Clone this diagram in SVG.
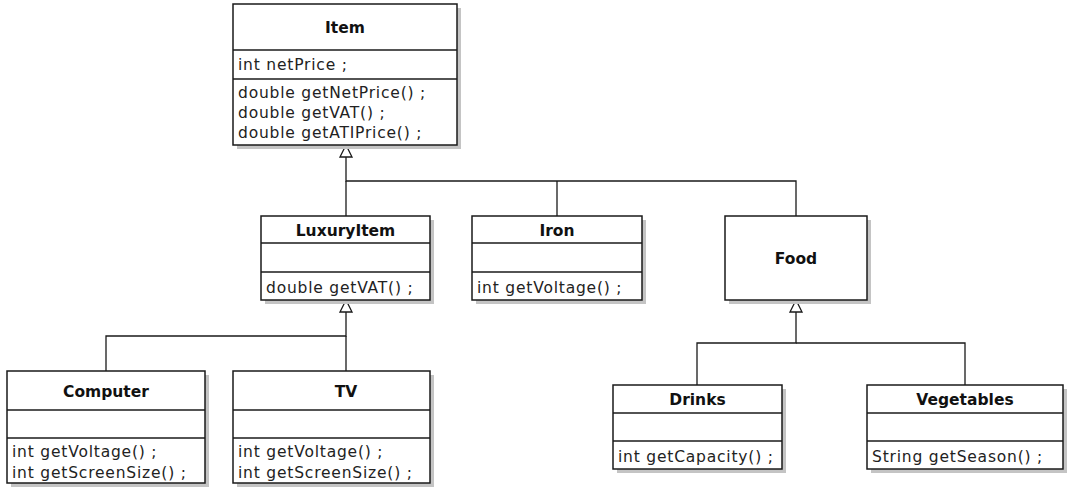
<svg xmlns="http://www.w3.org/2000/svg" width="1080" height="499" viewBox="0 0 1080 499">
<defs>
<style>
.sh{fill:#c4c4c4;}
.bx{fill:#fff;stroke:#1a1a1a;stroke-width:1.5;}
.sep{stroke:#1a1a1a;stroke-width:1.3;}
.t{font-family:"DejaVu Sans","Liberation Sans",sans-serif;font-size:15.5px;letter-spacing:0.8px;fill:#222;}
.h{font-family:"DejaVu Sans","Liberation Sans",sans-serif;font-size:15.5px;font-weight:bold;fill:#111;text-anchor:middle;}
.c{fill:none;stroke:#1a1a1a;stroke-width:1.3;}
.ar{fill:#fff;stroke:#1a1a1a;stroke-width:1.3;}
</style>
</defs>
<rect width="1080" height="499" fill="#fff"/>
<g id="connectors">
<polyline class="c" points="346,157 346,181 796,181 796,216"/>
<line class="c" x1="346" y1="181" x2="346" y2="216"/>
<line class="c" x1="557" y1="181" x2="557" y2="216"/>
<polygon class="ar" points="346,145 340,157 352,157"/>
<polyline class="c" points="346,312 346,336 106,336 106,371"/>
<line class="c" x1="346" y1="336" x2="346" y2="371"/>
<polygon class="ar" points="346,300 340,312 352,312"/>
<polyline class="c" points="796,312 796,343 697,343 697,385"/>
<polyline class="c" points="796,343 965,343 965,385"/>
<polygon class="ar" points="796,300 790,312 802,312"/>
</g>
<g id="Item">
<rect class="sh" x="237" y="8" width="224" height="141"/>
<rect class="bx" x="233" y="4" width="224" height="141"/>
<line class="sep" x1="233" y1="50" x2="457" y2="50"/>
<line class="sep" x1="233" y1="79" x2="457" y2="79"/>
<text class="h" x="345" y="33">Item</text>
<text class="t" x="238" y="70">int netPrice ;</text>
<text class="t" x="238" y="98">double getNetPrice() ;</text>
<text class="t" x="238" y="118">double getVAT() ;</text>
<text class="t" x="238" y="138">double getATIPrice() ;</text>
</g>
<g id="LuxuryItem">
<rect class="sh" x="265" y="220" width="169" height="84"/>
<rect class="bx" x="261" y="216" width="169" height="84"/>
<line class="sep" x1="261" y1="243" x2="430" y2="243"/>
<line class="sep" x1="261" y1="272" x2="430" y2="272"/>
<text class="h" x="345.5" y="236">LuxuryItem</text>
<text class="t" x="266" y="293">double getVAT() ;</text>
</g>
<g id="Iron">
<rect class="sh" x="476" y="220" width="170" height="84"/>
<rect class="bx" x="472" y="216" width="170" height="84"/>
<line class="sep" x1="472" y1="243" x2="642" y2="243"/>
<line class="sep" x1="472" y1="272" x2="642" y2="272"/>
<text class="h" x="557" y="236">Iron</text>
<text class="t" x="477" y="293">int getVoltage() ;</text>
</g>
<g id="Food">
<rect class="sh" x="729" y="220" width="142" height="84"/>
<rect class="bx" x="725" y="216" width="142" height="84"/>
<text class="h" x="796" y="264">Food</text>
</g>
<g id="Computer">
<rect class="sh" x="11" y="375" width="198" height="112"/>
<rect class="bx" x="7" y="371" width="198" height="112"/>
<line class="sep" x1="7" y1="410" x2="205" y2="410"/>
<line class="sep" x1="7" y1="438" x2="205" y2="438"/>
<text class="h" x="106" y="397">Computer</text>
<text class="t" x="12" y="457">int getVoltage() ;</text>
<text class="t" x="12" y="478">int getScreenSize() ;</text>
</g>
<g id="TV">
<rect class="sh" x="237" y="375" width="197" height="112"/>
<rect class="bx" x="233" y="371" width="197" height="112"/>
<line class="sep" x1="233" y1="410" x2="430" y2="410"/>
<line class="sep" x1="233" y1="438" x2="430" y2="438"/>
<text class="h" x="346" y="397">TV</text>
<text class="t" x="238" y="457">int getVoltage() ;</text>
<text class="t" x="238" y="478">int getScreenSize() ;</text>
</g>
<g id="Drinks">
<rect class="sh" x="617" y="389" width="169" height="84"/>
<rect class="bx" x="613" y="385" width="169" height="84"/>
<line class="sep" x1="613" y1="413" x2="782" y2="413"/>
<line class="sep" x1="613" y1="441" x2="782" y2="441"/>
<text class="h" x="697.5" y="405">Drinks</text>
<text class="t" x="618" y="462">int getCapacity() ;</text>
</g>
<g id="Vegetables">
<rect class="sh" x="871" y="389" width="196" height="84"/>
<rect class="bx" x="867" y="385" width="196" height="84"/>
<line class="sep" x1="867" y1="413" x2="1063" y2="413"/>
<line class="sep" x1="867" y1="441" x2="1063" y2="441"/>
<text class="h" x="965" y="405">Vegetables</text>
<text class="t" x="872" y="462">String getSeason() ;</text>
</g>
</svg>
